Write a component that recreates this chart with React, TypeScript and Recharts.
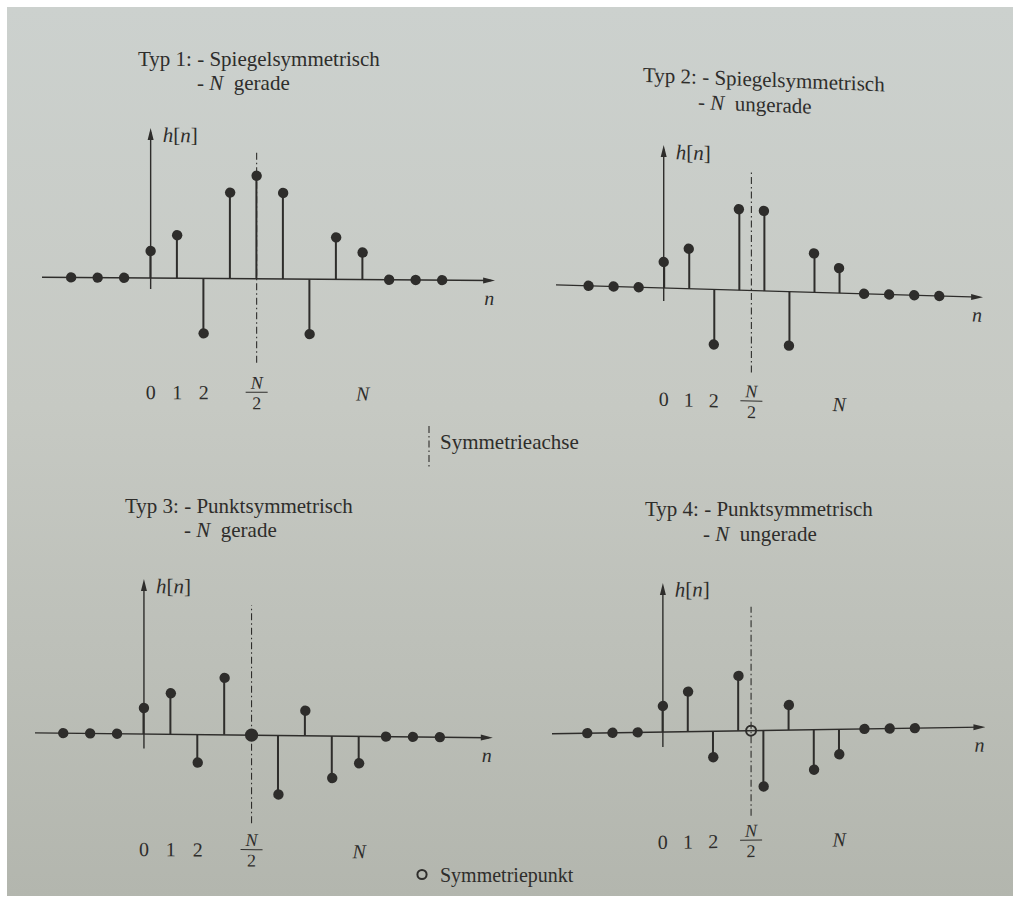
import React from 'react'
import { ComposedChart, Bar, Scatter, XAxis, YAxis, ReferenceLine } from 'recharts'

// Impulsantworten h[n] der vier linearphasigen FIR-Typen
const nTyp1 = [-3, -2, -1, 0, 1, 2, 3, 4, 5, 6, 7, 8, 9, 10, 11]
const hTyp1 = [0, 0, 0, 2.7, 4.3, -5.5, 8.6, 10.3, 8.6, -5.5, 4.2, 2.7, 0, 0, 0]
const nTyp2 = [-3, -2, -1, 0, 1, 2, 3, 4, 5, 6, 7, 8, 9, 10, 11]
const hTyp2 = [0, 0, 0, 2.6, 4.0, -5.5, 8.1, 8.0, -5.4, 3.9, 2.5, 0, 0, 0, 0]
const nTyp3 = [-3, -2, -1, 0, 1, 2, 3, 4, 5, 6, 7, 8, 9, 10, 11]
const hTyp3 = [0, 0, 0, 2.6, 4.1, -2.8, 5.7, 0, -5.9, 2.5, -4.2, -2.7, 0, 0, 0]
const nTyp4 = [-3, -2, -1, 0, 1, 2, 3, 4, 5, 6, 7, 8, 9, 10]
const hTyp4 = [0, 0, 0, 2.6, 4.0, -2.6, 5.5, -5.6, 2.5, -4.0, -2.5, 0, 0, 0]

const filterOrders = [8, 7, 8, 7]
const symmetryNames = ['Spiegelsymmetrisch', 'Spiegelsymmetrisch', 'Punktsymmetrisch', 'Punktsymmetrisch']
const parityNames = ['gerade', 'ungerade', 'gerade', 'ungerade']
const tickLabels = ['0', '1', '2', 'N/2', 'N']

const INK = '#2e2d2b'
const SERIF = "'Liberation Serif', 'Times New Roman', serif"
const PX = 10 // Pixel pro Einheit von h
const Y_MAX = 16
const Y_MIN = -9.5
const TICK_AREA = 45

// Lage der Diagramme auf der Seite (Ursprung, Abstand der Abtastwerte, Neigung)
const panels = [
  { ox: 151, oy: 277.7, dx: 26.5, a: -4.1, b: 13.0, slope: 0.0073, labelBase: 121, axis: [-1.1, 15.0], dash: [-8.4, 12.6] },
  { ox: 663.3, oy: 288.3, dx: 25.05, a: -4.3, b: 12.75, slope: 0.029, labelBase: 118, axis: [-1.3, 14.3], dash: [-8.2, 11.9] },
  { ox: 144, oy: 733.5, dx: 26.9, a: -4.05, b: 12.97, slope: 0.0107, labelBase: 122, axis: [-1.45, 15.5], dash: [-8.8, 13.0] },
  { ox: 662.7, oy: 731.6, dx: 25.2, a: -4.4, b: 12.8, slope: -0.0153, labelBase: 117, axis: [-1.5, 14.9], dash: [-8.5, 12.4] },
]

const titles = [
  { x1: 138, y1: 65.5, x2: 197, y2: 89.5, slope: 0 },
  { x1: 643, y1: 81.7, x2: 698, y2: 109, slope: 0.04 },
  { x1: 125, y1: 512.5, x2: 184, y2: 537, slope: 0 },
  { x1: 645, y1: 516, x2: 703, y2: 540.5, slope: 0 },
]

const textStyle = { fontFamily: SERIF, fill: INK, whiteSpace: 'pre' as const }

const Stem = (props: any) => {
  const { x, y, width, height } = props
  const cx = x + width / 2
  return <line x1={cx} x2={cx} y1={y} y2={y + height} stroke={INK} strokeWidth={2} />
}

const Dot = (props: any) => <circle cx={props.cx} cy={props.cy} r={5.2} fill={INK} />
const OpenMark = (props: any) => (
  <circle cx={props.cx} cy={props.cy} r={5} fill="none" stroke={INK} strokeWidth={2} />
)
const FilledMark = (props: any) => <circle cx={props.cx} cy={props.cy} r={6.6} fill={INK} />

const HorizontalAxis = (props: any) => {
  const { x1, x2, y1 } = props
  const tip = Math.max(x1, x2)
  const tail = Math.min(x1, x2)
  return (
    <g>
      <line x1={tail} x2={tip - 4} y1={y1} y2={y1} stroke={INK} strokeWidth={1.4} />
      <polygon points={`${tip},${y1} ${tip - 12},${y1 - 3} ${tip - 12},${y1 + 3}`} fill={INK} />
      <text x={tip - 6} y={y1 + 24.5} textAnchor="middle" fontSize={20} fontStyle="italic" style={textStyle}>
        n
      </text>
    </g>
  )
}

const VerticalAxis = (props: any) => {
  const { x1, y1, y2 } = props
  const tip = Math.min(y1, y2)
  const tail = Math.max(y1, y2)
  return (
    <g>
      <line x1={x1} x2={x1} y1={tail} y2={tip + 4} stroke={INK} strokeWidth={1.4} />
      <polygon points={`${x1},${tip} ${x1 - 3},${tip + 12} ${x1 + 3},${tip + 12}`} fill={INK} />
      <text x={x1 + 12} y={tip + 14} fontSize={21} style={textStyle}>
        <tspan fontStyle="italic">h</tspan>[<tspan fontStyle="italic">n</tspan>]
      </text>
    </g>
  )
}

// Beschriftung der n-Achse: 0, 1, 2, N/2 als Bruch, N kursiv
const IndexTick = (props: any) => {
  const { x, y, payload, ticks, shift } = props
  const label = tickLabels[ticks.indexOf(payload.value)]
  const base = y + shift
  if (label === 'N/2') {
    return (
      <g>
        <text x={x} y={base - 11} textAnchor="middle" fontSize={18} fontStyle="italic" style={textStyle}>
          N
        </text>
        <line x1={x - 11} x2={x + 11} y1={base - 7.5} y2={base - 7.5} stroke={INK} strokeWidth={1} />
        <text x={x} y={base + 9.5} textAnchor="middle" fontSize={18} style={textStyle}>
          2
        </text>
      </g>
    )
  }
  return (
    <text x={x} y={base} textAnchor="middle" fontSize={20} fontStyle={label === 'N' ? 'italic' : 'normal'} style={textStyle}>
      {label}
    </text>
  )
}

function StemPanel({ n, h, N, sym, lay }: any) {
  const data = n.map((v: number, i: number) => ({ n: v, h: h[i] }))
  const left = lay.ox + lay.a * lay.dx
  const width = (lay.b - lay.a) * lay.dx
  const top = lay.oy - Y_MAX * PX
  const plotH = (Y_MAX - Y_MIN) * PX
  const ticks = [0, 1, 2, N / 2, N]
  const shift = lay.labelBase + Y_MIN * PX
  const angle = (Math.atan(lay.slope) * 180) / Math.PI
  return (
    <div
      style={{
        position: 'absolute',
        left,
        top,
        transform: `skewY(${angle}deg)`,
        transformOrigin: `${-lay.a * lay.dx}px ${Y_MAX * PX}px`,
      }}
    >
      <ComposedChart width={width} height={plotH + TICK_AREA} data={data} margin={{ top: 0, right: 0, bottom: 0, left: 0 }}>
        <XAxis
          type="number"
          dataKey="n"
          domain={[lay.a, lay.b]}
          allowDataOverflow
          ticks={ticks}
          interval={0}
          axisLine={false}
          tickLine={false}
          tickSize={0}
          tickMargin={0}
          height={TICK_AREA}
          tick={(p: any) => <IndexTick {...p} ticks={ticks} shift={shift} />}
        />
        <YAxis type="number" domain={[Y_MIN, Y_MAX]} allowDataOverflow hide />
        <ReferenceLine y={0} shape={(p: any) => <HorizontalAxis {...p} />} />
        <ReferenceLine
          segment={[{ x: 0, y: lay.axis[0] }, { x: 0, y: lay.axis[1] }]}
          shape={(p: any) => <VerticalAxis {...p} />}
        />
        <ReferenceLine
          segment={[{ x: N / 2, y: lay.dash[0] }, { x: N / 2, y: lay.dash[1] }]}
          stroke={INK}
          strokeWidth={1.1}
          strokeDasharray="7 3 1.5 3"
        />
        <Bar dataKey="h" barSize={2} shape={Stem} isAnimationActive={false} />
        <Scatter dataKey="h" shape={Dot} isAnimationActive={false} />
        {sym && (
          <Scatter
            data={[{ n: N / 2, h: 0 }]}
            dataKey="h"
            shape={sym === 'open' ? OpenMark : FilledMark}
            isAnimationActive={false}
          />
        )}
      </ComposedChart>
    </div>
  )
}

export default function App() {
  const series = [
    { n: nTyp1, h: hTyp1, sym: null },
    { n: nTyp2, h: hTyp2, sym: null },
    { n: nTyp3, h: hTyp3, sym: 'filled' },
    { n: nTyp4, h: hTyp4, sym: 'open' },
  ]
  return (
    <div style={{ position: 'absolute', left: 0, top: 0, width: 1016, height: 897, background: '#ffffff', overflow: 'hidden' }}>
      <div
        style={{
          position: 'absolute',
          left: 7,
          top: 7,
          width: 1006,
          height: 889,
          background: 'linear-gradient(180deg, #ccd1ce 0%, #c6c9c3 45%, #b3b6ae 100%)',
        }}
      />
      {series.map((s, i) => (
        <StemPanel key={i} n={s.n} h={s.h} N={filterOrders[i]} sym={s.sym} lay={panels[i]} />
      ))}
      <svg width={1016} height={897} style={{ position: 'absolute', left: 0, top: 0, pointerEvents: 'none' }}>
        {titles.map((t, i) => {
          const angle = (Math.atan(t.slope) * 180) / Math.PI
          return (
            <g key={i}>
              <text transform={`translate(${t.x1},${t.y1}) skewY(${angle})`} fontSize={21} style={textStyle}>
                {`Typ ${i + 1}: - ${symmetryNames[i]}`}
              </text>
              <text transform={`translate(${t.x2},${t.y2}) skewY(${angle})`} fontSize={21} style={textStyle}>
                {'- '}
                <tspan fontStyle="italic">N</tspan>
                {`  ${parityNames[i]}`}
              </text>
            </g>
          )
        })}
        <line x1={429} x2={429} y1={426} y2={468} stroke={INK} strokeWidth={1.1} strokeDasharray="7 3 1.5 3" />
        <text x={440} y={448.5} fontSize={21} style={textStyle}>
          Symmetrieachse
        </text>
        <circle cx={422} cy={874.5} r={4.6} fill="none" stroke={INK} strokeWidth={2} />
        <text x={440} y={881.5} fontSize={20} style={textStyle}>
          Symmetriepunkt
        </text>
      </svg>
    </div>
  )
}
